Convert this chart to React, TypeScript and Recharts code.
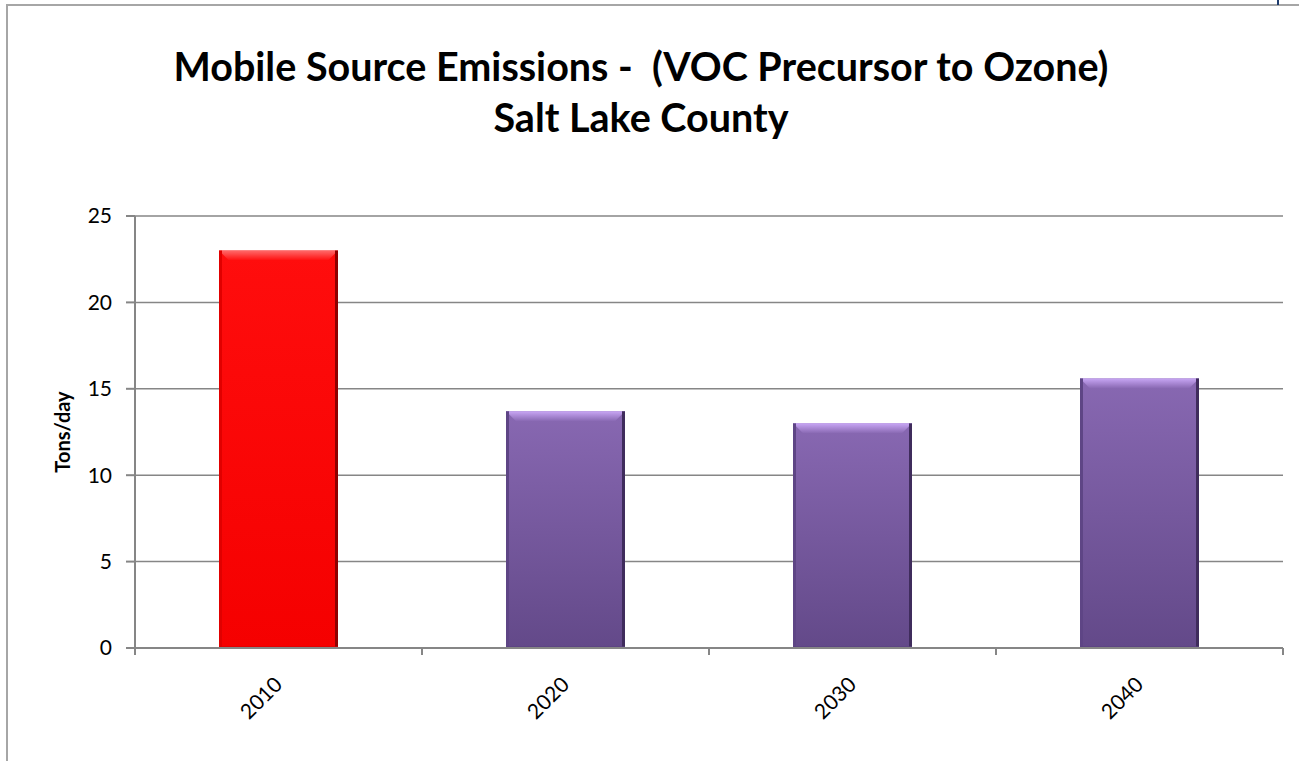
import { BarChart, Bar, XAxis, YAxis, CartesianGrid, Label } from 'recharts'

// VOC precursor emissions, tons/day
const years = ['2010', '2020', '2030', '2040']
const vocTons = [23.0, 13.7, 13.0, 15.6]
const yTicks = [0, 5, 10, 15, 20, 25]
const baseYear = '2010'

const chartData = years.map((year, i) => ({ year, tons: vocTons[i] }))

const AXIS = '#868686'
const FONT = 'Lato, "Open Sans", sans-serif'

const RED = { id: 'gradRed', top: '#ff6a6a', left: '#e00000', right: '#8f0000', bottom: '#d80000', from: '#ff0d0d', to: '#f50000' }
const PURPLE = { id: 'gradPurple', top: '#c8a6f4', left: '#5e4585', right: '#3f2c5c', bottom: '#5a4280', from: '#8868b2', to: '#634989' }

function BevelBar(props: any) {
  const { x, y, width, height, payload } = props
  if (!height || height <= 0) return null
  const p = payload.year === baseYear ? RED : PURPLE
  const b = Math.min(10, height / 2)
  const s = 3
  return (
    <g>
      <rect x={x} y={y} width={width} height={height} fill={`url(#${p.id})`} />
      <polygon
        points={`${x},${y} ${x + width},${y} ${x + width - b},${y + b} ${x + b},${y + b}`}
        fill={`url(#${p.id}Top)`}
      />
      <rect x={x} y={y} width={s} height={height} fill={p.left} />
      <rect x={x + width - s} y={y} width={s} height={height} fill={p.right} />
      <rect x={x} y={y + height - 2} width={width} height={2} fill={p.bottom} opacity={0.6} />
    </g>
  )
}

// category label rotated -45deg, plus tick marks on the band edges
function YearTick(props: any) {
  const { x, y, payload } = props
  const half = payload.offset || 0
  const px = x + 5
  const py = y + 38
  return (
    <g>
      <line x1={x - half} y1={y} x2={x - half} y2={y + 7} stroke={AXIS} strokeWidth={2} />
      <line x1={x + half} y1={y} x2={x + half} y2={y + 7} stroke={AXIS} strokeWidth={2} />
      <text
        x={px}
        y={py}
        transform={`rotate(-45 ${px} ${py})`}
        textAnchor="end"
        fontSize={21}
        fontFamily={FONT}
        fill="#000"
      >
        {payload.value}
      </text>
    </g>
  )
}

export default function App() {
  return (
    <div style={{ position: 'absolute', left: 0, top: 0, width: 1299, height: 761, overflow: 'hidden', background: '#fff' }}>
      <div style={{ position: 'absolute', left: 6, top: 4, width: 1400, height: 900, borderLeft: '2px solid #a6a6a6', borderTop: '2px solid #a6a6a6' }} />
      <div style={{ position: 'absolute', left: 1277, top: 0, width: 2, height: 5, background: '#1f3d6e' }} />
      <div
        style={{
          position: 'absolute',
          left: 0,
          top: 40,
          width: 1282,
          textAlign: 'center',
          fontFamily: FONT,
          fontWeight: 700,
          fontSize: 39.5,
          lineHeight: '51px',
          whiteSpace: 'pre',
          color: '#000',
        }}
      >
        {'Mobile Source Emissions -  (VOC Precursor to Ozone)\nSalt Lake County'}
      </div>
      <div style={{ position: 'absolute', left: 0, top: 0 }}>
        <BarChart
          width={1299}
          height={761}
          data={chartData}
          margin={{ top: 216, right: 16, left: 75, bottom: 53 }}
          barCategoryGap={84}
        >
          <defs>
            {[RED, PURPLE].map((p) => (
              <linearGradient key={p.id} id={p.id} x1="0" y1="0" x2="0" y2="1">
                <stop offset="0%" stopColor={p.from} />
                <stop offset="100%" stopColor={p.to} />
              </linearGradient>
            ))}
            {[RED, PURPLE].map((p) => (
              <linearGradient key={p.id + 'Top'} id={p.id + 'Top'} x1="0" y1="0" x2="0" y2="1">
                <stop offset="0%" stopColor={p.top} />
                <stop offset="100%" stopColor={p.from} />
              </linearGradient>
            ))}
          </defs>
          <CartesianGrid vertical={false} stroke={AXIS} strokeWidth={1.5} />
          <XAxis
            dataKey="year"
            tick={<YearTick />}
            tickLine={false}
            tickSize={0}
            tickMargin={0}
            axisLine={{ stroke: AXIS, strokeWidth: 2 }}
            height={60}
            interval={0}
          />
          <YAxis
            domain={[0, 25]}
            ticks={yTicks}
            width={60}
            tickSize={9}
            tickMargin={14}
            axisLine={{ stroke: AXIS, strokeWidth: 2 }}
            tickLine={{ stroke: AXIS, strokeWidth: 2 }}
            tick={{ fontSize: 21, fontFamily: FONT, fill: '#000' }}
          >
            <Label
              value="Tons/day"
              angle={-90}
              position="insideLeft"
              offset={-12}
              style={{ fontSize: 20, fontWeight: 700, fontFamily: FONT, fill: '#000', textAnchor: 'middle' }}
            />
          </YAxis>
          <Bar dataKey="tons" shape={<BevelBar />} isAnimationActive={false} />
        </BarChart>
      </div>
    </div>
  )
}
